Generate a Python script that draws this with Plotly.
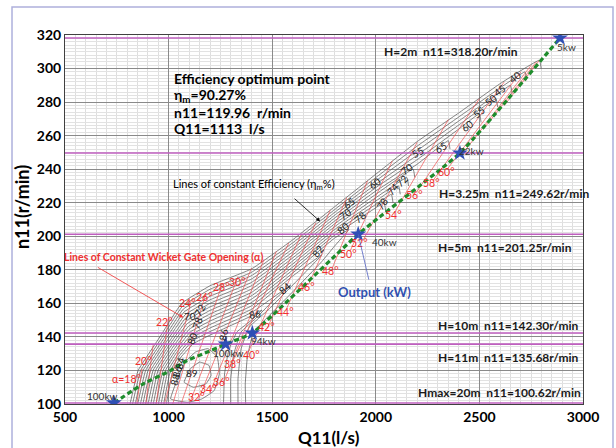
import plotly.graph_objects as go

# ---------------- data ----------------
head_n11 = [318.20, 249.62, 201.25, 142.30, 135.68, 100.62]
head_labels = ["H=2m  n11=318.20r/min", "H=3.25m  n11=249.62r/min", "H=5m  n11=201.25r/min",
               "H=10m  n11=142.30r/min", "H=11m  n11=135.68r/min", "Hmax=20m  n11=100.62r/min"]

output_q11 = [736, 876, 1007, 1087, 1184, 1275, 1404, 1915, 2406, 2889]
output_n11 = [100.62, 111.9, 119.8, 125.8, 130.8, 135.68, 142.30, 201.25, 249.62, 318.20]

star_q11 = [736, 1275, 1404, 1915, 2406, 2889]
star_n11 = [100.62, 135.68, 142.30, 201.25, 249.62, 318.20]
star_kw = ["100kw", "100kw", "94kw", "40kw", "22kw", "5kw"]

# constant efficiency lines (Q11, n11)
eff_40 = [(814,100),(853,120),(958,140),(1063,160),(1200,170.5),(1400,180.5),(1600,198),(1800,217.5),(2000,237),(2200,256.5),(2400,273.5),(2600,291),(2790,305),(2798,300)]
eff_45 = [(826,100),(865,120),(965,139.1),(1067,158.3),(1200,168.4),(1400,178.5),(1600,196.2),(1800,215.8),(2000,235),(2200,253.8),(2400,271.1),(2600,288.5),(2720,298),(2728,293)]
eff_50 = [(839,100),(877,120),(973,138.3),(1071,156.6),(1200,166.3),(1400,176.5),(1600,194.4),(1800,214.1),(2000,233),(2200,251.1),(2400,268.7),(2600,286),(2650,290),(2658,285)]
eff_55 = [(851,100),(889,120),(980,137.4),(1075,154.9),(1200,164.2),(1400,174.5),(1600,192.6),(1800,212.4),(2000,231),(2200,248.4),(2400,266.3),(2580,282),(2588,277)]
eff_60 = [(864,100),(901,120),(987,136.6),(1079,153.1),(1200,162.1),(1400,172.5),(1600,190.8),(1800,210.7),(2000,229),(2200,245.7),(2400,263.9),(2500,273),(2508,268)]
eff_65 = [(876,100),(913,120),(995,135.7),(1083,151.4),(1200,160),(1400,170.5),(1600,189),(1800,209),(2000,227),(2200,243),(2350,257),(2358,252)]
eff_70 = [(889,100),(925,120),(1002,134.9),(1087,149.7),(1200,157.9),(1400,168.5),(1600,187.2),(1800,207.3),(2000,225),(2180,240),(2188,235)]
eff_72 = [(901,100),(937,120),(1009,134),(1091,148),(1200,155.8),(1400,166.5),(1600,185.4),(1800,205.6),(2000,223),(2150,235),(2158,230)]
eff_74 = [(914,100),(949,120),(1016,133.1),(1096,146.3),(1200,153.7),(1400,164.5),(1600,183.6),(1800,203.9),(2000,221),(2110,230),(2118,225)]
eff_76 = [(926,100),(961,120),(1024,132.3),(1100,144.6),(1200,151.6),(1400,162.5),(1600,181.8),(1800,202.2),(2000,219),(2075,225),(2083,220)]
eff_78 = [(939,100),(973,120),(1031,131.4),(1104,142.9),(1200,149.5),(1400,160.5),(1600,180),(1800,200.5),(2000,217),(2040,220),(2048,215)]
eff_80 = [(951,100),(985,120),(1038,130.6),(1108,141.1),(1200,147.4),(1400,158.5),(1600,178.2),(1800,198.8),(1870,204),
          (1800,194),(1740,185),(1600,167),(1480,152),(1410,143),(1380,128),(1370,112),(1372,100)]
eff_82 = [(964,100),(997,120),(1046,129.7),(1112,139.4),(1200,145.3),(1400,156.5),(1600,176.4),(1740,189),
          (1600,171),(1480,156),(1390,146),(1350,133),(1335,115),(1335,100)]
eff_84 = [(976,100),(1009,120),(1053,128.9),(1116,137.7),(1200,143.2),(1400,154.5),(1590,171),
          (1500,161),(1420,151),(1350,143),(1315,130),(1300,115),(1300,100)]
eff_86 = [(989,100),(1021,120),(1060,128),(1120,136),(1200,141.1),(1400,152.5),(1450,156),
          (1400,150),(1330,143),(1290,132),(1270,118),(1265,100)]
eff_88 = [(1010,103),(1040,114),(1080,125),(1130,131),(1190,133),(1235,128),(1245,118),(1220,108),(1160,103),(1090,101),(1010,103)]
eff_89 = [(1075,113),(1105,121),(1150,125),(1195,123),(1205,117),(1180,112),(1120,110),(1075,113)]
efficiency_lines = [eff_40, eff_45, eff_50, eff_55, eff_60, eff_65, eff_70, eff_72, eff_74, eff_76,
                    eff_78, eff_80, eff_82, eff_84, eff_86, eff_88, eff_89]

# constant wicket gate opening lines
gate_alpha  = [18, 20, 22, 24, 26, 28, 30, 32, 34, 36, 38, 40, 42, 44, 46, 48, 50, 52, 54, 56, 58, 60, 62, 64, 66]
gate_q_low  = [846, 890, 940, 980, 1020, 1060, 1100, 1145, 1200, 1262, 1312, 1385, 1475, 1570, 1675, 1790, 1875, 1940, 2090, 2195, 2275, 2345, 2430, 2520, 2620]
gate_n_low  = [100, 100, 100, 100, 100, 100, 100, 103, 107, 112, 126, 131, 145, 157, 171, 181, 191, 198, 214, 226, 233, 240, 251, 264, 278]
gate_q_high = [872, 925, 1000, 1110, 1180, 1260, 1335, 1400, 1460, 1520, 1580, 1640, 1710, 1780, 1860, 1960, 2080, 2200, 2350, 2500, 2620, 2700, 2750, 2775, 2790]
gate_n_high = [121, 135, 152, 162, 166, 172, 176, 181, 186, 191, 196, 201, 208, 215.5, 223, 233, 245, 256, 269.5, 282, 292, 298, 302, 304, 305]
gate_labeled = [18, 20, 22, 24, 26, 28, 30, 32, 34, 36, 38, 40, 42, 44, 46, 48, 50, 52, 54, 56, 58, 60]

# ---------------- figure ----------------
FONT = "Lato"
fig = go.Figure()

for pts in efficiency_lines:
    fig.add_trace(go.Scatter(x=[p[0] for p in pts], y=[p[1] for p in pts], mode="lines",
                             line=dict(color="#505050", width=0.7, shape="spline", smoothing=0.3),
                             hoverinfo="skip"))

for a, ql, nl, qh, nh in zip(gate_alpha, gate_q_low, gate_n_low, gate_q_high, gate_n_high):
    fig.add_trace(go.Scatter(x=[ql, qh], y=[nl, nh], mode="lines",
                             line=dict(color="#f05050", width=0.7), hoverinfo="skip"))

for v in head_n11:
    fig.add_trace(go.Scatter(x=[500, 3000], y=[v, v], mode="lines",
                             line=dict(color="#bf5fbf", width=1.6), hoverinfo="skip"))

fig.add_trace(go.Scatter(x=output_q11, y=output_n11, mode="lines",
                         line=dict(color="#1e8c2c", width=3.2, dash="5px,3px", shape="spline", smoothing=0.4),
                         hoverinfo="skip"))
fig.add_trace(go.Scatter(x=star_q11, y=star_n11, mode="markers",
                         marker=dict(symbol="star", size=12, color="#2f4fb5"), hoverinfo="skip"))

ann = []
# head labels (left edges in data coords)
head_left = [2028, 2295, 2290, 2290, 2290, 2194]
head_y = [310.1, 225.6, 193.5, 147.0, 128.0, 107.1]
for t, x, y in zip(head_labels, head_left, head_y):
    ann.append(dict(x=x, y=y, text=t, showarrow=False, xanchor="left", yanchor="middle",
                    font=dict(family=FONT, size=12, color="#1a1a1a", weight="bold")))

# optimum text
opt_lines = ["Efficiency optimum point", "η<sub>m</sub>=90.27%", "n11=119.96  r/min", "Q11=1113  l/s"]
opt_y = [294.0, 283.9, 273.8, 264.3]
for t, y in zip(opt_lines, opt_y):
    ann.append(dict(x=1016, y=y, text=t, showarrow=False, xanchor="left", yanchor="middle",
                    font=dict(family=FONT, size=14, color="black", weight="bold")))

# star kW labels
kw_pos = [(677, 104.9), (1285, 130.5), (1460, 137.5), (2040, 196.4), (2464, 250.6), (2918, 313.1)]
for t, (x, y) in zip(star_kw, kw_pos):
    ann.append(dict(x=x, y=y, text=t, showarrow=False, xanchor="center", yanchor="middle",
                    font=dict(family=FONT, size=10, color="#333333")))

# gate labels
gate_lab_pos = [(799,115),(877,125.8),(978,149),(1090,160),(1175,163.5),(1256,169.8),(1332,172.5),
                (1135,104.4),(1192,109),(1253,113),(1310,124),(1400,129),(1472,146),(1562,155),
                (1666,170),(1782,179.4),(1867,189.3),(1922,196.2),(2085,212.5),(2189,224.4),(2269,231.7),(2341,238.3)]
for a, (x, y) in zip(gate_labeled, gate_lab_pos):
    t = ("α=%d°" % a) if a == 18 else ("%d°" % a)
    ann.append(dict(x=x, y=y, text=t, showarrow=False, xanchor="center", yanchor="middle",
                    font=dict(family=FONT, size=10.5, color="#f03030")))

# efficiency labels
eff_lab = [("40",2672,295,-38),("45",2600,287,-38),("50",2555,281,-38),("55",2498,274,-38),("60",2438,266,-38),
           ("65",2317,253,-30),("55",2204,250,-30),("60",1996,231.5,-36),("65",1871,220,-36),("70",1851,213.5,-36),
           ("70",2149,240,-36),("72",2125,233,-45),("74",2083,228,-50),("78",2028,219.4,-55),("78",1924,211.5,-40),
           ("80",1842,205,-40),("82",1721,191,-50),("84",1562,169,-40),("86",1417,153.6,-10),
           ("70",1105,152.5,0),("72",1151,156,-60),("78",1140,148,-70),("80",1111,139,-70),("84",1055,124.4,-75),
           ("86",1042,119.5,-75),("88",1029,114.5,-75),("89",1112,118.6,0),("86",1265,141,-80)]
for t, x, y, ang in eff_lab:
    ann.append(dict(x=x, y=y, text=t, showarrow=False, textangle=ang, xanchor="center", yanchor="middle",
                    font=dict(family=FONT, size=10, color="#222222")))

# descriptive labels and arrows
ann.append(dict(x=1412, y=230.9, text="Lines of constant Efficiency (η<sub>m</sub>%)", showarrow=False,
                font=dict(family=FONT, size=11, color="black")))
ann.append(dict(x=1731, y=208.9, ax=-27, ay=-24, text="", showarrow=True, arrowhead=2, arrowsize=1,
                arrowwidth=0.8, arrowcolor="black"))
ann.append(dict(x=973, y=187.5, text="Lines of Constant Wicket Gate Opening (α)", showarrow=False,
                font=dict(family=FONT, size=10.5, color="#f03030", weight="bold")))
ann.append(dict(x=1071, y=151.6, ax=-87, ay=-51, text="", showarrow=True, arrowhead=2, arrowsize=1,
                arrowwidth=0.8, arrowcolor="#f03030"))
ann.append(dict(x=1996, y=166.7, text="Output (kW)", showarrow=False,
                font=dict(family=FONT, size=13, color="#3050b0", weight="bold")))
ann.append(dict(x=1915, y=201.25, ax=11, ay=47, text="", showarrow=True, arrowhead=0,
                arrowwidth=0.8, arrowcolor="#5060c0"))

# axis titles
ann.append(dict(x=0.5097, y=-0.09, xref="paper", yref="paper", text="Q11(l/s)", showarrow=False,
                xanchor="center", yanchor="middle", font=dict(family=FONT, size=17, color="black", weight="bold")))
ann.append(dict(x=-0.084, y=0.535, xref="paper", yref="paper", text="n11(r/min)", showarrow=False, textangle=-90,
                xanchor="center", yanchor="middle", font=dict(family=FONT, size=18, color="black", weight="bold")))

fig.update_layout(
    width=616, height=448,
    margin=dict(l=65, r=33, t=35, b=44),
    paper_bgcolor="white", plot_bgcolor="white",
    showlegend=False,
    annotations=ann,
    shapes=[dict(type="rect", xref="paper", yref="paper", x0=-0.1023, x1=1.0579, y0=-0.25, y1=1.0759,
                 line=dict(color="#aeb0dc", width=1.5), fillcolor="rgba(0,0,0,0)", layer="below")],
    xaxis=dict(range=[500, 3000], tick0=500, dtick=500, showgrid=True, gridcolor="#8a8a8a", gridwidth=1,
               minor=dict(dtick=50, showgrid=True, gridcolor="#dedede", gridwidth=0.6),
               showline=True, linecolor="#404040", linewidth=1, mirror=True, zeroline=False, ticks="",
               tickfont=dict(family=FONT, size=14, color="black", weight="bold")),
    yaxis=dict(range=[100, 320], tick0=100, dtick=20, showgrid=True, gridcolor="#8a8a8a", gridwidth=1,
               minor=dict(dtick=2, showgrid=True, gridcolor="#e2e2e2", gridwidth=0.6),
               showline=True, linecolor="#404040", linewidth=1, mirror=True, zeroline=False, ticks="",
               tickfont=dict(family=FONT, size=14, color="black", weight="bold")),
)

fig.write_html("out.html")
